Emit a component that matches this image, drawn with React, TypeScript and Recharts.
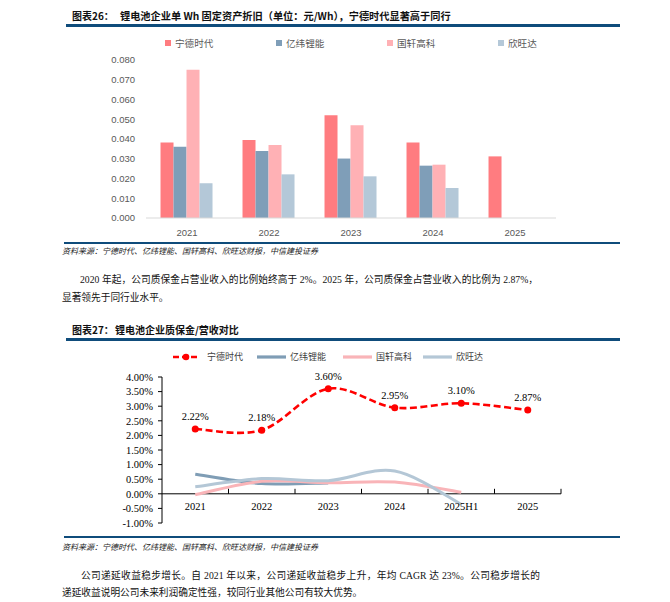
import React from "react";
import {
  BarChart,
  Bar,
  LineChart,
  Line,
  XAxis,
  YAxis,
  LabelList,
  ReferenceLine,
} from "recharts";

// 图表26 fixed-asset depreciation per Wh (元/Wh)
const barYears = ["2021", "2022", "2023", "2024", "2025"];
const catlDep = [0.0382, 0.0395, 0.052, 0.0382, 0.0312];
const eveDep = [0.0361, 0.0339, 0.0301, 0.0265, null];
const gotionDep = [0.0751, 0.037, 0.0469, 0.027, null];
const sunwodaDep = [0.0176, 0.0221, 0.0211, 0.0152, null];
const depTicks = [0, 0.01, 0.02, 0.03, 0.04, 0.05, 0.06, 0.07, 0.08];

// 图表27 warranty deposit / revenue (%)
const lineYears = ["2021", "2022", "2023", "2024", "2025H1", "2025"];
const catlWarranty = [2.22, 2.18, 3.6, 2.95, 3.1, 2.87];
const eveWarranty = [0.67, 0.35, 0.37, null, null, null];
const gotionWarranty = [-0.03, 0.43, 0.38, 0.4, 0.05, null];
const sunwodaWarranty = [0.24, 0.52, 0.45, 0.78, -0.36, null];
const pctTicks = [-1, -0.5, 0, 0.5, 1, 1.5, 2, 2.5, 3, 3.5, 4];

const companies = ["宁德时代", "亿纬锂能", "国轩高科", "欣旺达"];
const barColors = ["#FF7C80", "#7F9EB8", "#FFB1B5", "#B4C8D8"];
const lineColors = ["#FF0000", "#7F9DB5", "#F9B4B8", "#B4C7D6"];

const depData = barYears.map((year, i) => ({
  year,
  catl: catlDep[i],
  eve: eveDep[i],
  gotion: gotionDep[i],
  sunwoda: sunwodaDep[i],
}));

const warrantyData = lineYears.map((year, i) => ({
  year,
  catl: catlWarranty[i],
  eve: eveWarranty[i],
  gotion: gotionWarranty[i],
  sunwoda: sunwodaWarranty[i],
}));

const CJK = '"Noto Sans CJK SC", "Noto Sans", sans-serif';
const SERIF = '"Liberation Serif", "Noto Sans CJK SC", serif';
const SANS = '"Liberation Sans", Arial, sans-serif';
const RULE = "#0F4C7B";

// line chart plot box
const L_LEFT = 102;
const L_YW = 60;
const L_RIGHT = 109;
const L_W = 670;
const L_H = 190;
const L_TOP = 32;
const L_XH = 12;
const PLOT2_W = L_W - L_LEFT - L_YW - L_RIGHT;
const PLOT2_H = L_H - L_TOP - L_XH;
const PCT_MIN = -1;
const PCT_MAX = 4;

// excel-style smoothing (catmull-rom through the points)
function excelSmooth(context: any) {
  let pts: number[][] = [];
  return {
    areaStart() {},
    areaEnd() {},
    lineStart() {
      pts = [];
    },
    point(x: number, y: number) {
      pts.push([+x, +y]);
    },
    lineEnd() {
      const n = pts.length;
      if (!n) return;
      context.moveTo(pts[0][0], pts[0][1]);
      for (let i = 0; i < n - 1; i++) {
        const p0 = pts[Math.max(i - 1, 0)];
        const p1 = pts[i];
        const p2 = pts[i + 1];
        const p3 = pts[Math.min(i + 2, n - 1)];
        context.bezierCurveTo(
          p1[0] + (p2[0] - p0[0]) / 6,
          p1[1] + (p2[1] - p0[1]) / 6,
          p2[0] - (p3[0] - p1[0]) / 6,
          p2[1] - (p3[1] - p1[1]) / 6,
          p2[0],
          p2[1]
        );
      }
    },
  };
}

function WarrantyTick(props: any) {
  const { x, y, payload } = props;
  const zeroY = y - (PLOT2_H * (0 - PCT_MIN)) / (PCT_MAX - PCT_MIN);
  const half = PLOT2_W / lineYears.length / 2;
  return (
    <g>
      <line x1={x + half} x2={x + half} y1={zeroY - 5} y2={zeroY} stroke="#000" />
      <text
        x={x}
        y={zeroY + 16}
        textAnchor="middle"
        fill="#000"
        fontSize={10.5}
        fontFamily={SERIF}
      >
        {payload.value}
      </text>
    </g>
  );
}

const abs = (top: number, left: number, extra: React.CSSProperties = {}) =>
  ({ position: "absolute", top, left, whiteSpace: "nowrap", ...extra }) as React.CSSProperties;

function BarLegend() {
  return (
    <div style={abs(36, 165, { display: "flex", fontFamily: CJK, fontSize: 9.6, color: "#595959" })}>
      {companies.map((name, i) => (
        <div key={name} style={{ width: 111, display: "flex", alignItems: "center", height: 13 }}>
          <span style={{ width: 6, height: 6, background: barColors[i], marginRight: 4 }} />
          {name}
        </div>
      ))}
    </div>
  );
}

function LineLegend() {
  const lefts = [172, 257, 343, 423];
  return (
    <>
      {companies.map((name, i) => (
        <div
          key={name}
          style={abs(350, lefts[i], {
            display: "flex",
            alignItems: "center",
            height: 13,
            fontFamily: CJK,
            fontSize: 9,
            color: "#404040",
          })}
        >
          <svg width={i === 0 ? 30 : 29} height={10} style={{ marginRight: i === 0 ? 5 : 4 }}>
            {i === 0 ? (
              <>
                <line x1={1} x2={27} y1={5} y2={5} stroke={lineColors[0]} strokeWidth={2.6} strokeDasharray="6 3" />
                <circle cx={14} cy={5} r={3.3} fill={lineColors[0]} />
              </>
            ) : (
              <line x1={0} x2={29} y1={5} y2={5} stroke={lineColors[i]} strokeWidth={3.2} />
            )}
          </svg>
          {name}
        </div>
      ))}
    </>
  );
}

export default function App() {
  const catlLabel = (v: any) => `${Number(v).toFixed(2)}%`;
  return (
    <div
      style={{
        position: "absolute",
        left: 0,
        top: 0,
        width: 670,
        height: 602,
        background: "#fff",
        overflow: "hidden",
        color: "#111",
      }}
    >
      {/* figure 26 */}
      <div style={abs(8, 72, { fontFamily: CJK, fontSize: 10, fontWeight: 700, lineHeight: "16px" })}>
        图表26：
      </div>
      <div style={abs(8, 120, { fontFamily: CJK, fontSize: 10.2, fontWeight: 700, lineHeight: "16px" })}>
        锂电池企业单 Wh 固定资产折旧（单位：元/Wh），宁德时代显著高于同行
      </div>
      <div style={abs(24, 66, { width: 554, height: 3, background: RULE })} />
      <BarLegend />
      <div style={abs(30, 0)}>
        <BarChart
          width={670}
          height={215}
          data={depData}
          margin={{ top: 30, right: 114, left: 86, bottom: 0 }}
          barCategoryGap="17.7%"
          barGap={0}
        >
          <XAxis
            dataKey="year"
            height={27}
            tickLine={false}
            tickSize={0}
            tickMargin={11}
            axisLine={{ stroke: "#D9D9D9" }}
            tick={{ fill: "#595959", fontSize: 9.5, fontFamily: SANS }}
          />
          <YAxis
            width={60}
            domain={[0, 0.08]}
            ticks={depTicks}
            interval={0}
            axisLine={false}
            tickLine={false}
            tickSize={0}
            tickMargin={11}
            tickFormatter={(v: number) => v.toFixed(3)}
            tick={{ fill: "#595959", fontSize: 9.5, fontFamily: SANS }}
          />
          <Bar dataKey="catl" fill={barColors[0]} isAnimationActive={false} />
          <Bar dataKey="eve" fill={barColors[1]} isAnimationActive={false} />
          <Bar dataKey="gotion" fill={barColors[2]} isAnimationActive={false} />
          <Bar dataKey="sunwoda" fill={barColors[3]} isAnimationActive={false} />
        </BarChart>
      </div>
      <div style={abs(241.5, 64, { width: 556, height: 2, background: RULE })} />
      <div style={abs(245, 62, { fontFamily: CJK, fontSize: 8, fontStyle: "italic", lineHeight: "12px", color: "#222" })}>
        资料来源：宁德时代、亿纬锂能、国轩高科、欣旺达财报，中信建投证券
      </div>
      <div
        style={abs(271, 80, {
          width: 458,
          fontFamily: SERIF,
          fontSize: 9.7,
          lineHeight: "18px",
          textAlign: "justify",
          textAlignLast: "justify",
        })}
      >
        2020 年起，公司质保金占营业收入的比例始终高于 2%。2025 年，公司质保金占营业收入的比例为 2.87%，
      </div>
      <div style={abs(289, 62, { fontFamily: SERIF, fontSize: 9.7, lineHeight: "18px" })}>
        显著领先于同行业水平。
      </div>

      {/* figure 27 */}
      <div style={abs(322, 72, { fontFamily: CJK, fontSize: 10, fontWeight: 700, lineHeight: "16px" })}>
        图表27：
      </div>
      <div style={abs(322, 115, { fontFamily: CJK, fontSize: 10, fontWeight: 700, lineHeight: "16px" })}>
        锂电池企业质保金/营收对比
      </div>
      <div style={abs(337.5, 66, { width: 554, height: 3, background: RULE })} />
      <LineLegend />
      <div style={abs(345, 0)}>
        <LineChart
          width={L_W}
          height={L_H}
          data={warrantyData}
          margin={{ top: L_TOP, right: L_RIGHT, left: L_LEFT, bottom: 0 }}
        >
          <XAxis
            dataKey="year"
            scale="band"
            height={L_XH}
            axisLine={false}
            tickLine={false}
            tickSize={0}
            tickMargin={0}
            interval={0}
            tick={<WarrantyTick />}
          />
          <YAxis
            width={L_YW}
            type="number"
            domain={[PCT_MIN, PCT_MAX]}
            ticks={pctTicks}
            interval={0}
            axisLine={{ stroke: "#000" }}
            tickLine={{ stroke: "#000" }}
            tickSize={4}
            tickMargin={5}
            tickFormatter={(v: number) => `${v.toFixed(2)}%`}
            tick={{ fill: "#000", fontSize: 10.5, fontFamily: SERIF }}
          />
          <ReferenceLine y={0} stroke="#000" strokeWidth={1} />
          <Line
            dataKey="catl"
            type={excelSmooth as any}
            stroke={lineColors[0]}
            strokeWidth={2.6}
            strokeDasharray="7 3.5"
            dot={{ r: 3.5, fill: lineColors[0], stroke: "none", strokeDasharray: "" }}
            activeDot={false}
            isAnimationActive={false}
          >
            <LabelList
              dataKey="catl"
              position="top"
              offset={9}
              formatter={catlLabel}
              fill="#000"
              fontSize={10.5}
              fontFamily={SERIF}
            />
          </Line>
          <Line
            dataKey="eve"
            type={excelSmooth as any}
            stroke={lineColors[1]}
            strokeWidth={3}
            dot={false}
            activeDot={false}
            isAnimationActive={false}
          />
          <Line
            dataKey="gotion"
            type={excelSmooth as any}
            stroke={lineColors[2]}
            strokeWidth={3}
            dot={false}
            activeDot={false}
            isAnimationActive={false}
          />
          <Line
            dataKey="sunwoda"
            type={excelSmooth as any}
            stroke={lineColors[3]}
            strokeWidth={3}
            dot={false}
            activeDot={false}
            isAnimationActive={false}
          />
        </LineChart>
      </div>
      <div style={abs(535.5, 64, { width: 556, height: 2, background: RULE })} />
      <div style={abs(541, 62, { fontFamily: CJK, fontSize: 8, fontStyle: "italic", lineHeight: "12px", color: "#222" })}>
        资料来源：宁德时代、亿纬锂能、国轩高科、欣旺达财报，中信建投证券
      </div>
      <div
        style={abs(567, 81, {
          width: 459,
          fontFamily: SERIF,
          fontSize: 9.7,
          lineHeight: "18px",
          textAlign: "justify",
          textAlignLast: "justify",
        })}
      >
        公司递延收益稳步增长。自 2021 年以来，公司递延收益稳步上升，年均 CAGR 达 23%。公司稳步增长的
      </div>
      <div style={abs(584, 62, { fontFamily: SERIF, fontSize: 9.7, lineHeight: "18px" })}>
        递延收益说明公司未来利润确定性强，较同行业其他公司有较大优势。
      </div>
    </div>
  );
}
